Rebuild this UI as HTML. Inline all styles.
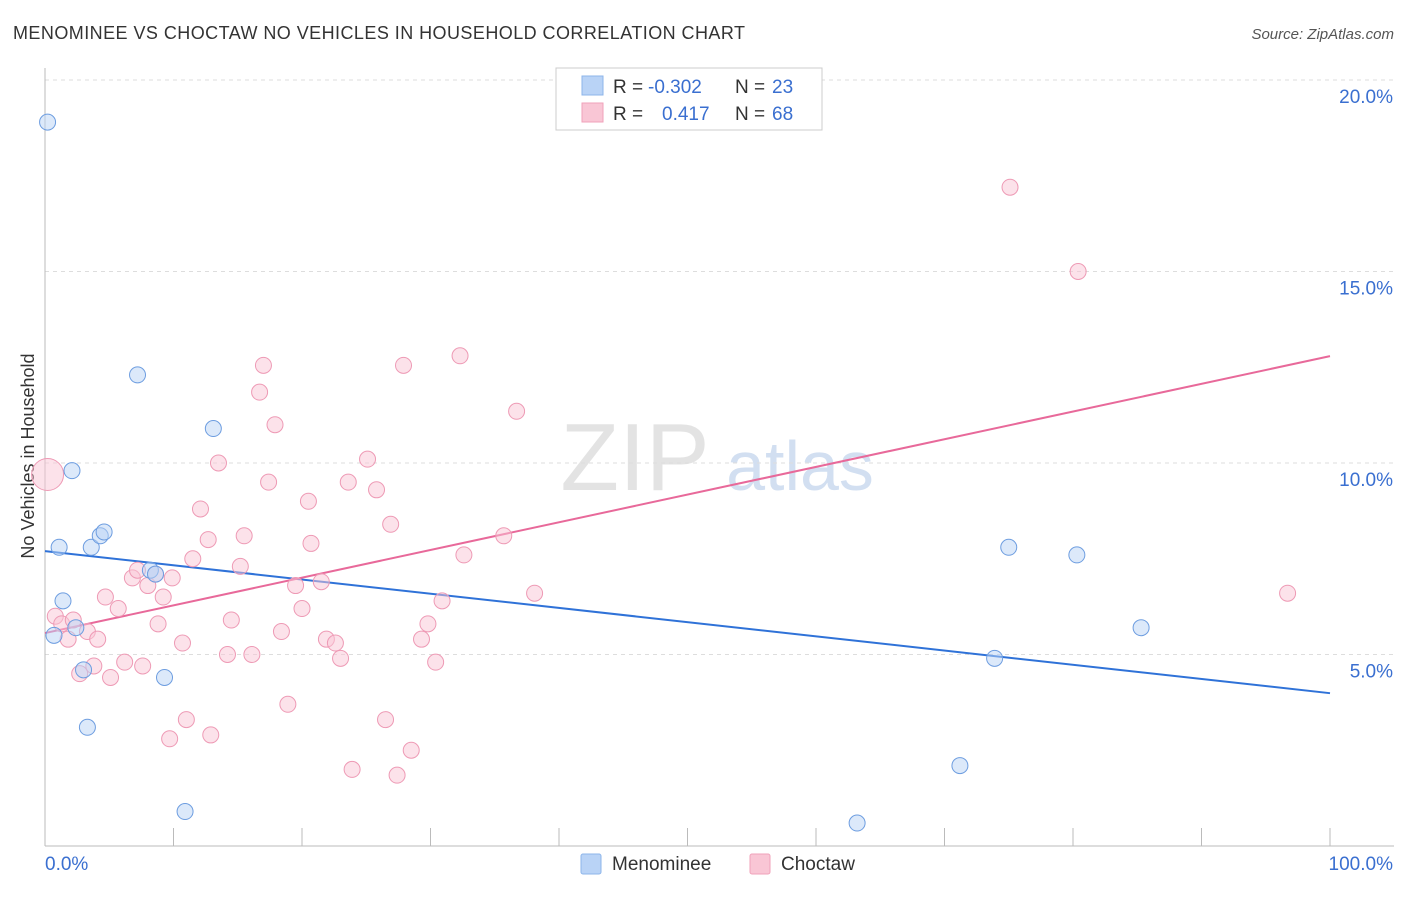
<!DOCTYPE html>
<html><head><meta charset="utf-8">
<style>
body{margin:0;background:#fff;font-family:"Liberation Sans",sans-serif;}
svg text{font-family:"Liberation Sans",sans-serif;}
</style></head>
<body>
<svg id="chart" width="1406" height="892" xmlns="http://www.w3.org/2000/svg">
<text x="13" y="39" font-size="18" fill="#333" textLength="732">MENOMINEE VS CHOCTAW NO VEHICLES IN HOUSEHOLD CORRELATION CHART</text>
<text x="1394" y="39" font-size="15" fill="#555" font-style="italic" text-anchor="end">Source: ZipAtlas.com</text>
<text x="34" y="456" font-size="18" fill="#333" text-anchor="middle" transform="rotate(-90 34 456)">No Vehicles in Household</text>
<g>
<text x="635" y="490" font-size="96" fill="#ddd" font-family="Liberation Serif" text-anchor="middle" opacity="0.8">ZIP</text>
<text x="800" y="490" font-size="70" fill="#c8d8ee" text-anchor="middle" opacity="0.8">atlas</text>
</g>
<g id="grid"></g>
<g id="axes"></g>
<g id="lines"></g>
<g id="points"></g>
<g>
<rect x="556" y="68" width="266" height="62" fill="#fff" stroke="#ccc"/>
<rect x="582" y="76" width="21" height="19" fill="#b9d3f6" stroke="#8db5ea"/>
<rect x="582" y="103" width="21" height="19" fill="#f9c6d5" stroke="#f0a2ba"/>
<text x="613" y="93" font-size="19" fill="#333">R = </text><text x="648" y="93" font-size="19" fill="#3a6fd0">-0.302</text>
<text x="735" y="93" font-size="19" fill="#333">N = </text><text x="772" y="93" font-size="19" fill="#3a6fd0">23</text>
<text x="613" y="120" font-size="19" fill="#333">R = </text><text x="662" y="120" font-size="19" fill="#3a6fd0">0.417</text>
<text x="735" y="120" font-size="19" fill="#333">N = </text><text x="772" y="120" font-size="19" fill="#3a6fd0">68</text>
</g>
<g>
<rect x="581" y="854" width="20" height="20" fill="#b9d3f6" stroke="#8db5ea" rx="2"/>
<text x="612" y="870" font-size="19" fill="#333">Menominee</text>
<rect x="750" y="854" width="20" height="20" fill="#f9c6d5" stroke="#f0a2ba" rx="2"/>
<text x="781" y="870" font-size="19" fill="#333">Choctaw</text>
</g>
</svg>
<script>
const yTicks=[5,10,15,20];
const yTickLabels=["5.0%","10.0%","15.0%","20.0%"];
const xTickLabels=["0.0%","100.0%"];
const menomineeX=[0.2,2.1,1.1,1.4,0.7,2.4,3.0,3.3,3.6,4.3,4.6,7.2,8.2,8.6,9.3,10.9,13.1,75.0,80.3,85.3,73.9,71.2,63.2];
const menomineeY=[18.9,9.8,7.8,6.4,5.5,5.7,4.6,3.1,7.8,8.1,8.2,12.3,7.2,7.1,4.4,0.9,10.9,7.8,7.6,5.7,4.9,2.1,0.6];
const choctawX=[0.2,0.8,1.3,1.8,2.2,2.7,3.3,3.8,4.1,4.7,5.1,5.7,6.2,6.8,7.2,7.6,8.0,8.6,8.8,9.2,9.7,9.9,10.7,11.0,11.5,12.1,12.7,12.9,13.5,14.2,14.5,15.2,15.5,16.1,16.7,17.0,17.4,17.9,18.4,18.9,19.5,20.0,20.5,20.7,21.5,21.9,22.6,23.0,23.6,23.9,25.1,25.8,26.5,26.9,27.4,27.9,28.5,29.3,29.8,30.4,30.9,32.3,32.6,35.7,36.7,38.1,75.1,80.4,96.7];
const choctawY=[9.7,6.0,5.8,5.4,5.9,4.5,5.6,4.7,5.4,6.5,4.4,6.2,4.8,7.0,7.2,4.7,6.8,7.1,5.8,6.5,2.8,7.0,5.3,3.3,7.5,8.8,8.0,2.9,10.0,5.0,5.9,7.3,8.1,5.0,11.85,12.55,9.5,11.0,5.6,3.7,6.8,6.2,9.0,7.9,6.9,5.4,5.3,4.9,9.5,2.0,10.1,9.3,3.3,8.4,1.85,12.55,2.5,5.4,5.8,4.8,6.4,12.8,7.6,8.1,11.35,6.6,17.2,15.0,6.6];
const trendMenominee=[7.70,3.99];
const trendChoctaw=[5.56,12.79];
const NS="http://www.w3.org/2000/svg";
const X0=45,X1=1330,Y0=846,Y20=80;
const sx=v=>X0+(X1-X0)*v/100;
const sy=v=>Y0-(Y0-Y20)*v/20;
function mk(tag,attrs,parent){const e=document.createElementNS(NS,tag);for(const k in attrs)e.setAttribute(k,attrs[k]);document.getElementById(parent).appendChild(e);return e;}
yTicks.forEach((t,i)=>{
 const g=mk('line',{x1:X0,x2:1394,y1:sy(t),y2:sy(t),stroke:'#ddd','stroke-dasharray':'4,4'},'grid');
 
 
 const l=mk('text',{x:1393,y:sy(t)+23,'font-size':19,fill:'#3a6fd0','text-anchor':'end'},'axes');
 l.textContent=yTickLabels[i];
 
 
});
const xa=mk('line',{x1:X0,x2:1394,y1:Y0,y2:Y0,stroke:'#bbb'},'axes');


const ya=mk('line',{x1:X0,x2:X0,y1:68,y2:Y0,stroke:'#bbb'},'axes');


for(let i=1;i<=10;i++){const t=mk('line',{x1:sx(i*10),x2:sx(i*10),y1:Y0,y2:Y0-18,stroke:'#bbb'},'axes');
 
 }
[[0,'start',45],[100,'end',1393]].forEach((a,i)=>{const l=mk('text',{x:a[2],y:870,'font-size':19,fill:'#3a6fd0','text-anchor':a[1]},'axes');l.textContent=xTickLabels[i];
 
 });
function pts(xs,ys,fill,stroke,name){xs.forEach((x,i)=>{const r=(name==='choctaw-point'&&i===0)?16:8;
 const c=mk('circle',{cx:sx(x),cy:sy(ys[i]),r:r,fill:fill,'fill-opacity':0.5,stroke:stroke,'stroke-width':1},'points');
 
 });}
pts(choctawX,choctawY,'#f9c6d5','#ee9ab5','choctaw-point');
pts(menomineeX,menomineeY,'#b9d3f6','#6d9de0','menominee-point');
const lb=mk('line',{x1:sx(0),y1:sy(trendMenominee[0]),x2:sx(100),y2:sy(trendMenominee[1]),stroke:'#2f72d8','stroke-width':2},'lines');


const lp=mk('line',{x1:sx(0),y1:sy(trendChoctaw[0]),x2:sx(100),y2:sy(trendChoctaw[1]),stroke:'#e8699a','stroke-width':2},'lines');


</script>
</body></html>
